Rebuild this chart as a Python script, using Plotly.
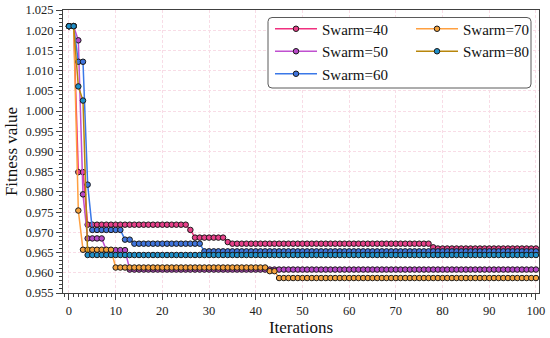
import plotly.graph_objects as go

# ---------------- data ----------------
iterations = list(range(0, 101))

# step definitions: (first iteration of the level, fitness value)
swarm40_steps = [(0, 1.0210), (2, 0.9849), (4, 0.9719), (26, 0.9706), (27, 0.9687),
                 (34, 0.9676), (35, 0.9672), (78, 0.9663), (79, 0.9660)]
swarm50_steps = [(0, 1.0210), (2, 1.0175), (3, 0.9794), (4, 0.9685), (8, 0.9656),
                 (13, 0.9608)]
swarm60_steps = [(0, 1.0210), (2, 1.0122), (4, 0.9818), (5, 0.9706), (12, 0.9682),
                 (14, 0.9672), (29, 0.9653)]
swarm70_steps = [(0, 1.0210), (2, 0.9754), (3, 0.9657), (10, 0.9613), (43, 0.9604),
                 (45, 0.9587)]
swarm80_steps = [(0, 1.0210), (2, 1.0061), (3, 1.0026), (4, 0.9644)]

series_names = ["Swarm=40", "Swarm=50", "Swarm=60", "Swarm=70", "Swarm=80"]
line_colors = ["#F0307F", "#C050D0", "#3A78E8", "#FFA040", "#B8860B"]
marker_colors = ["#E8408A", "#B848C8", "#3F74DD", "#F5A23C", "#1F8FC8"]

y_ticks = [0.955 + 0.005 * i for i in range(15)]
x_ticks = list(range(0, 101, 10))


def expand(steps, xs):
    vals = []
    for x in xs:
        v = None
        for start, val in steps:
            if x >= start:
                v = val
        vals.append(v)
    return vals


all_steps = [swarm40_steps, swarm50_steps, swarm60_steps, swarm70_steps, swarm80_steps]
legend_ids = ["legend", "legend", "legend", "legend2", "legend2"]

FONT = "Liberation Serif"

fig = go.Figure()
for name, steps, lc, mc, lg in zip(series_names, all_steps, line_colors, marker_colors, legend_ids):
    fig.add_trace(go.Scatter(
        x=iterations, y=expand(steps, iterations), name=name, mode="lines+markers",
        line=dict(color=lc, width=1.5),
        marker=dict(symbol="circle", size=5.5, color=mc, line=dict(color="#1a1a1a", width=1)),
        legend=lg,
    ))

# plot-area geometry (pixels)
W, H = 550, 338
ML, MR, MT, MB = 63, 11, 10, 45
pw, ph = W - ML - MR, H - MT - MB


def px_x(px):
    return (px - ML) / pw


def px_y(py):
    return (H - MB - py) / ph


# legend frame (rounded rectangle)
x0, x1 = px_x(268), px_x(531)
y0, y1 = px_y(88), px_y(17.5)
rx, ry = 4 / pw, 4 / ph
path = (f"M{x0+rx},{y1} L{x1-rx},{y1} Q{x1},{y1} {x1},{y1-ry} L{x1},{y0+ry} "
        f"Q{x1},{y0} {x1-rx},{y0} L{x0+rx},{y0} Q{x0},{y0} {x0},{y0+ry} "
        f"L{x0},{y1-ry} Q{x0},{y1} {x0+rx},{y1} Z")
fig.add_shape(type="path", path=path, xref="paper", yref="paper",
              fillcolor="white", line=dict(color="#5a5a5a", width=1), layer="above")

legend_common = dict(bgcolor="rgba(0,0,0,0)", borderwidth=0,
                     font=dict(family=FONT, size=15, color="#111111"),
                     orientation="v", xanchor="left", yanchor="top",
                     tracegroupgap=0, itemwidth=42)
fig.update_layout(
    legend=dict(x=px_x(270), y=px_y(12.5), **legend_common),
    legend2=dict(x=px_x(411), y=px_y(12.5), **legend_common),
)

axis_common = dict(
    showline=True, linecolor="#404040", linewidth=1, mirror=True,
    ticks="outside", ticklen=6, tickwidth=1, tickcolor="#404040",
    showgrid=True, gridcolor="#F8DCE6", griddash="3px,2px", gridwidth=1,
    zeroline=False, automargin=False,
    tickfont=dict(family=FONT, size=12.5, color="#222222"),
)

fig.update_xaxes(
    range=[-1.28, 100.65], tickmode="array", tickvals=x_ticks,
    minor=dict(dtick=1, tick0=0, ticks="outside", ticklen=3, tickcolor="#404040", showgrid=False),
    title=dict(text="Iterations", font=dict(family=FONT, size=17, color="#111111"), standoff=0),
    **axis_common,
)
fig.update_yaxes(
    range=[0.955, 1.025], tickmode="array", tickvals=y_ticks, tickformat=".3f",
    minor=dict(dtick=0.001, tick0=0.955, ticks="outside", ticklen=3, tickcolor="#404040", showgrid=False),
    title=dict(text="Fitness value", font=dict(family=FONT, size=17, color="#111111"), standoff=3),
    **axis_common,
)

fig.update_layout(
    width=W, height=H,
    margin=dict(l=ML, r=MR, t=MT, b=MB, pad=0),
    plot_bgcolor="white", paper_bgcolor="white",
    showlegend=True,
)

fig.write_html("out.html", config={"displayModeBar": False},
               post_script="document.body.style.margin='0';")
